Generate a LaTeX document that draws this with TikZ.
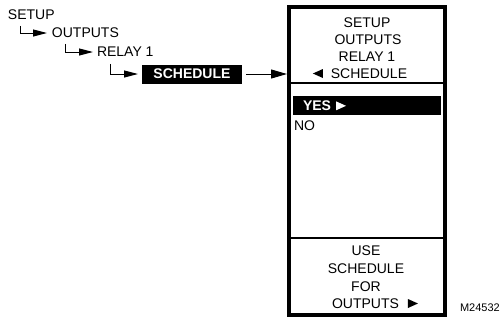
\documentclass[tikz,border=0pt]{standalone}
\usepackage{fontspec}
\setmainfont{Liberation Sans}
\usetikzlibrary{arrows.meta, positioning, calc}

% small solid pointers used in the display text
\newcommand{\rtri}[1][black]{\tikz[baseline=0pt]\fill[#1] (0pt,0pt) -- (0pt,9pt) -- (10pt,4.5pt) -- cycle;}
\newcommand{\ltri}[1][black]{\tikz[baseline=0pt]\fill[#1] (10pt,0pt) -- (10pt,9pt) -- (0pt,4.5pt) -- cycle;}

\begin{document}
\begin{tikzpicture}[
  x=1pt, y=-1pt,
  every node/.style={inner sep=0pt, outer sep=0pt},
  tree/.style={font=\fontsize{14}{17}\selectfont, anchor=west},
  lcd/.style={font=\fontsize{14}{17}\selectfont, anchor=base},
  hilite/.style={fill=black, text=white, font=\fontsize{14}{17}\selectfont\bfseries},
  tarr/.style={-{Triangle[length=14pt, width=7pt]}, line width=1pt},
  barr/.style={-{Triangle[length=16pt, width=9pt]}, line width=1pt},
  divider/.style={line width=1.3pt},
]
\useasboundingbox (0,0) rectangle (504,322);

% Menu path (left)
\node[tree] (setup) at (8,15) {SETUP};
\node[tree] (outputs) at (52,33) {OUTPUTS};
\node[tree] (relay) at (97,52) {RELAY 1};
\node[hilite, minimum width=100pt, minimum height=19pt] (sched) at (192,74) {SCHEDULE};

\draw[tarr] ([xshift=12pt, yshift=-6pt]setup.south west) |- ([xshift=-5pt]outputs.west);
\draw[tarr] ([xshift=13pt, yshift=-6pt]outputs.south west) |- ([xshift=-4pt]relay.west);
\draw[tarr] ([xshift=13pt, yshift=-7pt]relay.south west) |- ([xshift=-4pt]sched.west);

% Display window
\node[draw, line width=4pt, minimum width=156pt, minimum height=308pt] (disp) at (367,161) {};
\draw[barr, shorten >=2pt] ([xshift=4pt]sched.east) -- (sched.east -| disp.west);

% Header lines
\node[lcd] (l1) at (367,27) {SETUP};
\node[lcd] (l2) at (368,44) {OUTPUTS};
\node[lcd] (l3) at (367,61) {RELAY 1};
\node[lcd] (l4) at (360,78) {\ltri\hspace{8pt}SCHEDULE};
\draw[divider] ([yshift=-76pt]disp.north west) -- ([yshift=-76pt]disp.north east);

% Choices
\node[hilite, minimum width=148pt, minimum height=19pt, text width=128pt, align=left]
  (yes) at (367,105.5) {YES\hspace{5pt}\rtri[white]};
\node[lcd, anchor=base west] (no) at (294,130) {NO};

% Help text
\draw[divider] ([yshift=77pt]disp.south west) -- ([yshift=77pt]disp.south east);
\node[lcd] (b1) at (366,255) {USE};
\node[lcd] (b2) at (366,273) {SCHEDULE};
\node[lcd] (b3) at (366,291) {FOR};
\node[lcd] (b4) at (375,308) {OUTPUTS\hspace{9pt}\rtri};

\node[font=\fontsize{11}{13}\selectfont, anchor=base west] (fignum) at (460,311.5) {M24532};

\end{tikzpicture}
\end{document}
